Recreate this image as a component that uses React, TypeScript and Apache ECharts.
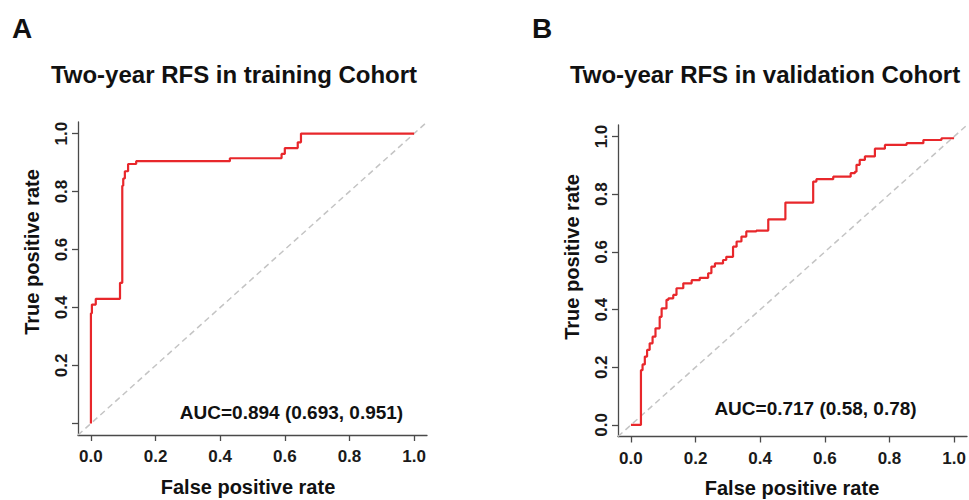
import React, { useEffect, useRef } from "react";
import * as echarts from "echarts";

// Training cohort ROC (false positive rate, true positive rate)
const trainFpr = [0, 0, 0.003, 0.003, 0.015, 0.015, 0.09, 0.09, 0.097, 0.097, 0.1, 0.1, 0.105, 0.105, 0.115, 0.115, 0.14, 0.14, 0.43, 0.43, 0.59, 0.59, 0.6, 0.6, 0.64, 0.64, 0.65, 0.65, 1.0];
const trainTpr = [0, 0.38, 0.38, 0.41, 0.41, 0.43, 0.43, 0.485, 0.485, 0.82, 0.82, 0.845, 0.845, 0.87, 0.87, 0.895, 0.895, 0.905, 0.905, 0.915, 0.915, 0.93, 0.93, 0.95, 0.95, 0.97, 0.97, 1.0, 1.0];

// Validation cohort ROC
const validFpr = [0, 0.031, 0.031, 0.036, 0.036, 0.043, 0.043, 0.05, 0.05, 0.058, 0.058, 0.067, 0.067, 0.076, 0.076, 0.08, 0.08, 0.089, 0.089, 0.095, 0.095, 0.1, 0.1, 0.11, 0.11, 0.116, 0.116, 0.131, 0.131, 0.141, 0.141, 0.162, 0.162, 0.188, 0.188, 0.213, 0.213, 0.239, 0.239, 0.249, 0.249, 0.26, 0.26, 0.285, 0.285, 0.295, 0.295, 0.316, 0.316, 0.327, 0.327, 0.342, 0.342, 0.357, 0.357, 0.388, 0.388, 0.425, 0.425, 0.478, 0.478, 0.564, 0.564, 0.574, 0.574, 0.626, 0.626, 0.68, 0.68, 0.693, 0.693, 0.698, 0.698, 0.708, 0.708, 0.724, 0.724, 0.755, 0.755, 0.786, 0.786, 0.853, 0.853, 0.905, 0.905, 0.961, 0.961, 1.0];
const validTpr = [0, 0, 0.19, 0.19, 0.21, 0.21, 0.237, 0.237, 0.26, 0.26, 0.283, 0.283, 0.306, 0.306, 0.335, 0.335, 0.335, 0.335, 0.375, 0.375, 0.404, 0.404, 0.404, 0.404, 0.434, 0.434, 0.439, 0.439, 0.451, 0.451, 0.474, 0.474, 0.491, 0.491, 0.502, 0.502, 0.51, 0.51, 0.526, 0.526, 0.549, 0.549, 0.56, 0.56, 0.572, 0.572, 0.583, 0.583, 0.618, 0.618, 0.636, 0.636, 0.653, 0.653, 0.671, 0.671, 0.674, 0.674, 0.713, 0.713, 0.771, 0.771, 0.844, 0.844, 0.852, 0.852, 0.861, 0.861, 0.873, 0.873, 0.878, 0.878, 0.902, 0.902, 0.919, 0.919, 0.931, 0.931, 0.958, 0.958, 0.971, 0.971, 0.977, 0.977, 0.988, 0.988, 0.994, 0.994, 1.0];

const refLine = [-0.04, 1.04];
const tickValues = [0, 0.2, 0.4, 0.6, 0.8, 1.0];
const trainYLabelValues = [0.2, 0.4, 0.6, 0.8, 1.0];
const titles = ["Two-year RFS in training Cohort", "Two-year RFS in validation Cohort"];
const panelLetters = ["A", "B"];
const aucTexts = ["AUC=0.894 (0.693, 0.951)", "AUC=0.717 (0.58, 0.78)"];
const xTitle = "False positive rate";
const yTitle = "True positive rate";

const FONT = '"Liberation Sans", Arial, Helvetica, sans-serif';
const AXIS_COLOR = "#4a4a4a";
const RED = "#e8272b";

function zip(a: number[], b: number[]) {
  return a.map((v, i) => [v, b[i]]);
}

export default function App() {
  const ref = useRef<HTMLDivElement>(null);
  useEffect(() => {
    document.body.style.margin = "0";
    const chart = echarts.init(ref.current!, null, { renderer: "svg" });

    const grids = [
      { left: 78, top: 122, width: 349, height: 313 },
      { left: 618, top: 125, width: 349, height: 311.5 },
    ];

    const makeX = (gi: number) => ({
      type: "value",
      gridIndex: gi,
      min: -0.04,
      max: 1.04,
      splitLine: { show: false },
      axisLine: { show: true, onZero: false, lineStyle: { color: AXIS_COLOR, width: 1.3 } },
      axisTick: { show: true, length: 6, customValues: tickValues, lineStyle: { color: AXIS_COLOR, width: 1.3 } },
      axisLabel: {
        customValues: tickValues,
        formatter: (v: number) => v.toFixed(1),
        fontFamily: FONT,
        fontSize: 17,
        fontWeight: "bold",
        color: "#1a1a1a",
        margin: 13,
      },
    });
    const makeY = (gi: number, labels: number[]) => ({
      type: "value",
      gridIndex: gi,
      min: -0.04,
      max: 1.04,
      splitLine: { show: false },
      axisLine: { show: true, onZero: false, lineStyle: { color: AXIS_COLOR, width: 1.3 } },
      axisTick: { show: true, length: 6, customValues: tickValues, lineStyle: { color: AXIS_COLOR, width: 1.3 } },
      axisLabel: {
        customValues: labels,
        rotate: 90,
        formatter: (v: number) => v.toFixed(1),
        fontFamily: FONT,
        fontSize: 17,
        fontWeight: "bold",
        color: "#1a1a1a",
        margin: 8,
      },
    });

    const textEl = (text: string, x: number, y: number, size: number, align: string, rotation = 0, weight = "bold") => ({
      type: "text",
      x,
      y,
      rotation,
      style: {
        text,
        fill: "#111",
        font: `${weight} ${size}px ${FONT}`,
        align,
        verticalAlign: "middle",
      },
    });

    chart.setOption({
      animation: false,
      backgroundColor: "#fff",
      grid: grids,
      xAxis: [makeX(0), makeX(1)],
      yAxis: [makeY(0, trainYLabelValues), makeY(1, tickValues)],
      series: [
        {
          type: "line",
          xAxisIndex: 0,
          yAxisIndex: 0,
          data: zip(refLine, refLine),
          symbol: "none",
          lineStyle: { color: "#c4c4c4", width: 1.5, type: [6, 4] },
          silent: true,
        },
        {
          type: "line",
          xAxisIndex: 1,
          yAxisIndex: 1,
          data: zip(refLine, refLine),
          symbol: "none",
          lineStyle: { color: "#c4c4c4", width: 1.5, type: [6, 4] },
          silent: true,
        },
        {
          type: "line",
          xAxisIndex: 0,
          yAxisIndex: 0,
          data: zip(trainFpr, trainTpr),
          symbol: "none",
          lineStyle: { color: RED, width: 2.2 },
        },
        {
          type: "line",
          xAxisIndex: 1,
          yAxisIndex: 1,
          data: zip(validFpr, validTpr),
          symbol: "none",
          lineStyle: { color: RED, width: 2.2 },
        },
      ],
      graphic: [
        textEl(panelLetters[0], 12, 28.5, 28, "left"),
        textEl(panelLetters[1], 532, 28.5, 28, "left"),
        textEl(titles[0], 234, 74, 24, "center"),
        textEl(titles[1], 765, 74, 24, "center"),
        textEl(aucTexts[0], 291.5, 412.5, 19, "center"),
        textEl(aucTexts[1], 815.5, 408.5, 19, "center"),
        textEl(xTitle, 248, 487, 20, "center"),
        textEl(xTitle, 792, 488, 20, "center"),
        textEl(yTitle, 31.5, 252, 20, "center", Math.PI / 2),
        textEl(yTitle, 571.5, 257, 20, "center", Math.PI / 2),
      ],
    });
    return () => chart.dispose();
  }, []);
  return <div ref={ref} style={{ position: "absolute", left: 0, top: 0, width: 969, height: 500 }} />;
}
